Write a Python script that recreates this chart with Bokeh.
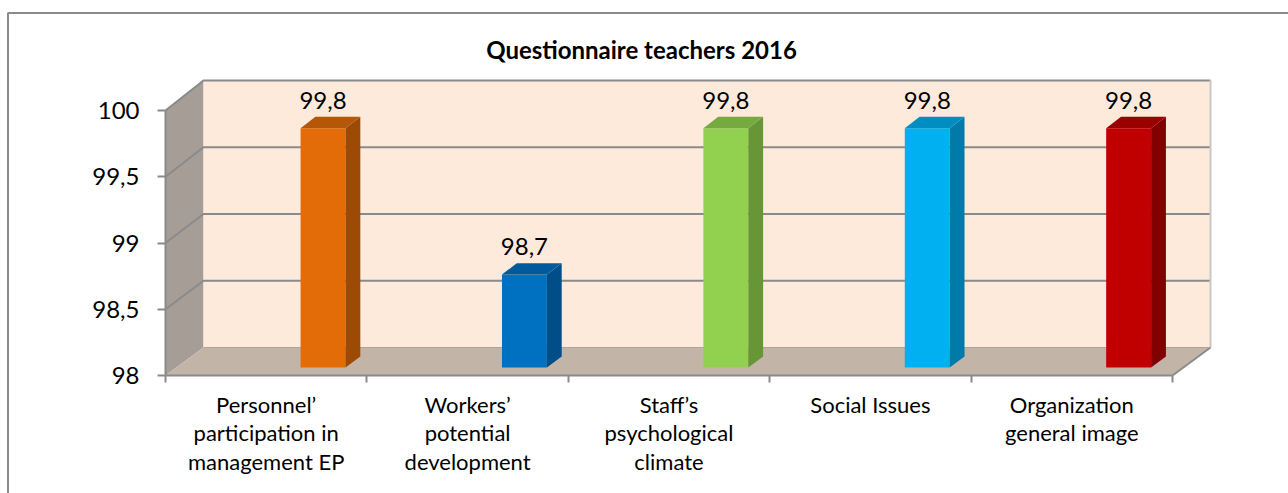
from bokeh.plotting import figure
from bokeh.models import Range1d, LinearAxis, FixedTicker, Label
from bokeh.core.properties import value
from bokeh.embed import file_html
from bokeh.resources import INLINE

# ---------------- data ----------------
categories = [
    "Personnel\u2019\nparticipation in\nmanagement EP",
    "Workers\u2019\npotential\ndevelopment",
    "Staff\u2019s\npsychological\nclimate",
    "Social Issues",
    "Organization\ngeneral image",
]
values = [99.8, 98.7, 99.8, 99.8, 99.8]
y_ticks = [98, 98.5, 99, 99.5, 100]
y_tick_labels = ["98", "98,5", "99", "99,5", "100"]
title_text = "Questionnaire teachers 2016"

front_colors = ["#E36C09", "#0070C0", "#92D050", "#00B0F0", "#C00000"]
top_colors = ["#B55708", "#005A9C", "#76A940", "#008DC1", "#9A0000"]
side_colors = ["#9C4A06", "#004E88", "#679636", "#007AA8", "#820000"]

# ---------------- geometry (pixel layout of the 3-D box) ----------------
W, H = 1288, 493
OX, OY = 165.0, 375.0          # front-left-bottom corner of the box (px)
PX_CAT = 201.4                 # px per category
PX_VAL = 132.5                 # px per value unit on the front plane
DEPTH_PX = (38.0, 28.0)        # depth offset of the back wall (px)
PERSP = 0.0075                 # slight perspective growth toward the back

vmin, vmax = y_ticks[0], y_ticks[-1]
n = len(categories)

DX = DEPTH_PX[0] / PX_CAT
DY = DEPTH_PX[1] / PX_VAL

x_start = -OX / PX_CAT
x_end = (W - OX) / PX_CAT
y_end = vmin + OY / PX_VAL
y_start = vmin - (H - OY) / PX_VAL


def P(x, v, z):
    return x + z * DX, vmin + (v - vmin) * (1 + z * PERSP) + z * DY


def poly(pts):
    xs, ys = zip(*[P(*pt) for pt in pts])
    return list(xs), list(ys)


p = figure(width=W, height=H, x_range=Range1d(x_start, x_end), y_range=Range1d(y_start, y_end),
           x_axis_type=None, y_axis_type=None, output_backend="svg", toolbar_location=None,
           min_border=0, min_border_left=0, min_border_right=0, min_border_top=0, min_border_bottom=0)
p.outline_line_color = None
p.background_fill_color = "white"
p.border_fill_color = "white"

GRID = "#8A8A8A"

# walls
lx, ly = poly([(0, vmin, 0), (0, vmax, 0), (0, vmax, 1), (0, vmin, 1)])
fx, fy = poly([(0, vmin, 0), (n, vmin, 0), (n, vmin, 1), (0, vmin, 1)])
bx, by = poly([(0, vmin, 1), (n, vmin, 1), (n, vmax, 1), (0, vmax, 1)])
p.patches(xs=[lx, fx, bx], ys=[ly, fy, by],
          fill_color=["#A69E96", "#C3B4A8", "#FDEADA"], line_color=None)

# gridlines on the walls
for t in y_ticks[1:]:
    gx, gy = poly([(0, t, 0), (0, t, 1), (n, t, 1)])
    p.line(gx, gy, line_color=GRID, line_width=2)
ex, ey = poly([(n, vmin, 1), (n, vmax, 1)])
p.line(ex, ey, line_color="#C8C8C8", line_width=2)
rx, ry = poly([(n, vmin, 0), (n, vmin, 1)])
p.line(rx, ry, line_color=GRID, line_width=2)
kx, ky = poly([(0, vmin, 1), (n, vmin, 1)])
p.line(kx, ky, line_color="#B0A498", line_width=1)

# bars
B0, B1 = 0.616, 0.839   # bar extent inside its category
Z0, Z1 = 0.29, 0.68     # bar depth
fr_x, fr_y, sd_x, sd_y, tp_x, tp_y = [], [], [], [], [], []
lab_x, lab_y, lab_t = [], [], []
for i, v in enumerate(values):
    x0, x1 = i + B0, i + B1
    a, b = poly([(x0, vmin, Z0), (x1, vmin, Z0), (x1, v, Z0), (x0, v, Z0)])
    fr_x.append(a); fr_y.append(b)
    a, b = poly([(x1, vmin, Z0), (x1, vmin, Z1), (x1, v, Z1), (x1, v, Z0)])
    sd_x.append(a); sd_y.append(b)
    a, b = poly([(x0, v, Z0), (x1, v, Z0), (x1, v, Z1), (x0, v, Z1)])
    tp_x.append(a); tp_y.append(b)
    cx, _ = P((x0 + x1) / 2, v, Z0)
    _, ty = P(x0, v, Z1)
    lab_x.append(cx)
    lab_y.append(ty + 16.5 / PX_VAL)
    lab_t.append(("%.1f" % v).replace(".", ","))

p.patches(xs=fr_x, ys=fr_y, fill_color=front_colors, line_color=None)
p.patches(xs=sd_x, ys=sd_y, fill_color=side_colors, line_color=None)
p.patches(xs=tp_x, ys=tp_y, fill_color=top_colors, line_color=None)

p.text(x=lab_x, y=lab_y, text=lab_t, text_align="center", text_baseline="alphabetic",
       text_font=value("Lato"), text_font_size="24px", text_color="black")

# axes
def key(t):
    return int(t) if float(t).is_integer() else t

yaxis = LinearAxis(fixed_location=0,
                   ticker=FixedTicker(ticks=y_ticks, minor_ticks=[]),
                   major_label_overrides={key(t): s for t, s in zip(y_ticks, y_tick_labels)},
                   bounds=(vmin, vmax))
yaxis.axis_line_color = GRID
yaxis.axis_line_width = 2
yaxis.major_tick_line_color = GRID
yaxis.major_tick_line_width = 2
yaxis.major_tick_out = 8
yaxis.major_tick_in = 0
yaxis.minor_tick_line_color = None
yaxis.major_label_standoff = 18
yaxis.major_label_text_font = "Lato"
yaxis.major_label_text_font_size = "24px"
yaxis.major_label_text_color = "black"
p.add_layout(yaxis, "left")

centers = [i + 0.5 for i in range(n)]
xaxis = LinearAxis(fixed_location=vmin,
                   ticker=FixedTicker(ticks=centers, minor_ticks=list(range(n + 1))),
                   major_label_overrides={key(c): s for c, s in zip(centers, categories)},
                   bounds=(0, n))
xaxis.axis_line_color = GRID
xaxis.axis_line_width = 2
xaxis.major_tick_line_color = None
xaxis.major_tick_out = 0
xaxis.major_tick_in = 0
xaxis.minor_tick_line_color = GRID
xaxis.minor_tick_line_width = 2
xaxis.minor_tick_out = 7
xaxis.minor_tick_in = 0
xaxis.major_label_standoff = 8
xaxis.major_label_text_font = "Lato"
xaxis.major_label_text_font_size = "22px"
xaxis.major_label_text_color = "black"
xaxis.major_label_text_line_height = 1.06
p.add_layout(xaxis, "below")

# title
p.add_layout(Label(x=(641 - OX) / PX_CAT, y=vmin + (OY - 49) / PX_VAL, text=title_text,
                   text_align="center", text_baseline="alphabetic", text_font="Lato",
                   text_font_style="bold", text_font_size="24px", text_color="black"))

# chart border (left and top edges)
xb = x_start + 7.5 / PX_CAT
yb = y_end - 12.5 / PX_VAL
p.line([xb, xb, x_end], [y_start, yb, yb], line_color="#8B8B8B", line_width=2)

open("out.html", "w").write(file_html(p, INLINE))
